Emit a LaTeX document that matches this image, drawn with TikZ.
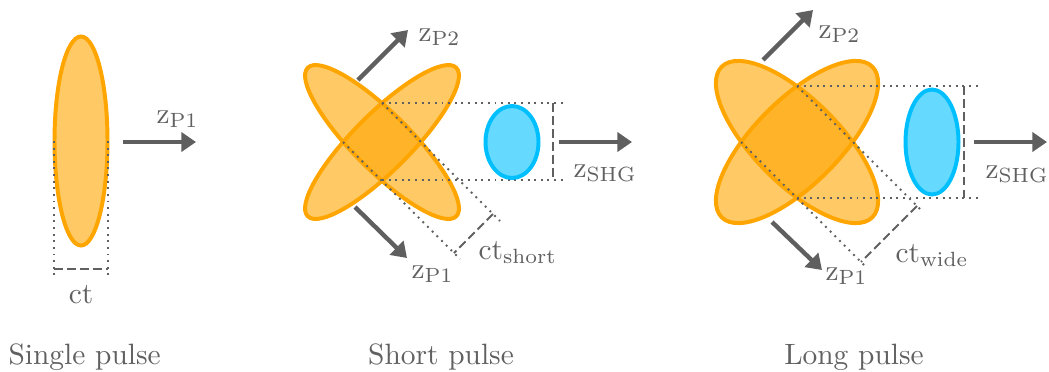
\documentclass[tikz,border=0pt]{standalone}
\usetikzlibrary{arrows.meta}
\definecolor{pulse}{HTML}{FFA500}
\definecolor{shg}{HTML}{00BFFF}
\definecolor{arrowgray}{HTML}{5F5F5F}
\definecolor{linegray}{HTML}{606060}
\definecolor{textgray}{HTML}{606060}
\begin{document}
\begin{tikzpicture}[x=0.34pt,y=-0.34pt,
  pulsefill/.style={draw=pulse, fill=pulse, fill opacity=0.6, line width=1.35pt},
  shgfill/.style={draw=shg, fill=shg, fill opacity=0.6, line width=1.35pt},
  prop/.style={draw=arrowgray, line width=1.5pt, -{Triangle[length=5pt,width=6.5pt]}},
  guide/.style={draw=linegray, line width=0.65pt, dash pattern=on 0.65pt off 1.6pt},
  measure/.style={draw=linegray, line width=0.65pt, dash pattern=on 3pt off 1.4pt},
  lbl/.style={text=textgray, inner sep=0pt, font=\fontsize{10}{12}\selectfont},
]
\useasboundingbox (0,0) rectangle (1049,371);

% ---------- Single pulse ----------
\coordinate (A) at (81,141);
\draw[pulsefill] (A) ellipse [x radius=26.5, y radius=104.5];
\coordinate (Al) at (54,141);  \coordinate (Alb) at (54,278);
\coordinate (Ar) at (108,141); \coordinate (Arb) at (108,278);
\coordinate (Adl) at (54,269); \coordinate (Adr) at (108,269);
\draw[guide] (Al) -- (Alb);
\draw[guide] (Ar) -- (Arb);
\draw[measure] (Adl) -- (Adr);
\node[lbl, anchor=base] (Act) at (81,303) {ct};
\coordinate (As) at (123,142); \coordinate (Ae) at (196,142);
\draw[prop] (As) -- (Ae);
\node[lbl, anchor=base west] (Az) at (156,123) {$\mathrm{z}_{\mathrm{P1}}$};
\node[lbl, anchor=base west] (Atitle) at (8,364) {Single pulse};

% ---------- Short pulse ----------
\coordinate (B) at (382,142);
\draw[pulsefill, rotate around={45:(B)}] (B) ellipse [x radius=28.5, y radius=105];
\draw[pulsefill, rotate around={-45:(B)}] (B) ellipse [x radius=28.5, y radius=105];
\coordinate (Bt) at (382,103); \coordinate (Bb) at (382,180);
\coordinate (Bl) at (343,142);
\coordinate (Bth) at (565,103); \coordinate (Bbh) at (565,180);
\draw[guide] (Bt) -- (Bth);
\draw[guide] (Bb) -- (Bbh);
\coordinate (Bud) at (500,221); \coordinate (Bld) at (460,259);
\draw[guide] (Bt) -- (Bud);
\draw[guide] (Bl) -- (Bld);
\coordinate (Bm1) at (493,214); \coordinate (Bm2) at (454,253);
\draw[measure] (Bm1) -- (Bm2);
\coordinate (Bv1) at (553,103); \coordinate (Bv2) at (553,180);
\draw[measure] (Bv1) -- (Bv2);
\coordinate (Bs) at (512,142);
\draw[shgfill] (Bs) ellipse [x radius=26.5, y radius=36];
\coordinate (Bas) at (559,142); \coordinate (Bae) at (632,142);
\draw[prop] (Bas) -- (Bae);
\coordinate (Bp2s) at (358,80); \coordinate (Bp2e) at (408,30);
\draw[prop] (Bp2s) -- (Bp2e);
\coordinate (Bp1s) at (355,207); \coordinate (Bp1e) at (407,258);
\draw[prop] (Bp1s) -- (Bp1e);
\node[lbl, anchor=base west] (Bzp2) at (418,41) {$\mathrm{z}_{\mathrm{P2}}$};
\node[lbl, anchor=base west] (Bzp1) at (411,278) {$\mathrm{z}_{\mathrm{P1}}$};
\node[lbl, anchor=base west] (Bct) at (478,259) {$\mathrm{ct}_{\mathrm{short}}$};
\node[lbl, anchor=base west] (Bzs) at (573,177) {$\mathrm{z}_{\mathrm{SHG}}$};
\node[lbl, anchor=base] (Btitle) at (441,364) {Short pulse};

% ---------- Long pulse ----------
\coordinate (C) at (797,142);
\draw[pulsefill, rotate around={45:(C)}] (C) ellipse [x radius=42.5, y radius=106.5];
\draw[pulsefill, rotate around={-45:(C)}] (C) ellipse [x radius=42.5, y radius=106.5];
\coordinate (Ct) at (797,86); \coordinate (Cb) at (797,198);
\coordinate (Cl) at (741,142);
\coordinate (Cth) at (980,86); \coordinate (Cbh) at (980,198);
\draw[guide] (Ct) -- (Cth);
\draw[guide] (Cb) -- (Cbh);
\coordinate (Cud) at (923,212); \coordinate (Cld) at (866,267);
\draw[guide] (Ct) -- (Cud);
\draw[guide] (Cl) -- (Cld);
\coordinate (Cm1) at (917,206); \coordinate (Cm2) at (861,262);
\draw[measure] (Cm1) -- (Cm2);
\coordinate (Cv1) at (964,86); \coordinate (Cv2) at (964,198);
\draw[measure] (Cv1) -- (Cv2);
\coordinate (Cs) at (932,142);
\draw[shgfill] (Cs) ellipse [x radius=26.5, y radius=52.5];
\coordinate (Cas) at (974,142); \coordinate (Cae) at (1047,142);
\draw[prop] (Cas) -- (Cae);
\coordinate (Cp2s) at (763,60); \coordinate (Cp2e) at (813,10);
\draw[prop] (Cp2s) -- (Cp2e);
\coordinate (Cp1s) at (772,222); \coordinate (Cp1e) at (822,270);
\draw[prop] (Cp1s) -- (Cp1e);
\node[lbl, anchor=base west] (Czp2) at (818,38) {$\mathrm{z}_{\mathrm{P2}}$};
\node[lbl, anchor=base west] (Czp1) at (825,280) {$\mathrm{z}_{\mathrm{P1}}$};
\node[lbl, anchor=base west] (Cct) at (895,262) {$\mathrm{ct}_{\mathrm{wide}}$};
\node[lbl, anchor=base west] (Czs) at (985,178) {$\mathrm{z}_{\mathrm{SHG}}$};
\node[lbl, anchor=base] (Ctitle) at (854,364) {Long pulse};
\end{tikzpicture}
\end{document}
